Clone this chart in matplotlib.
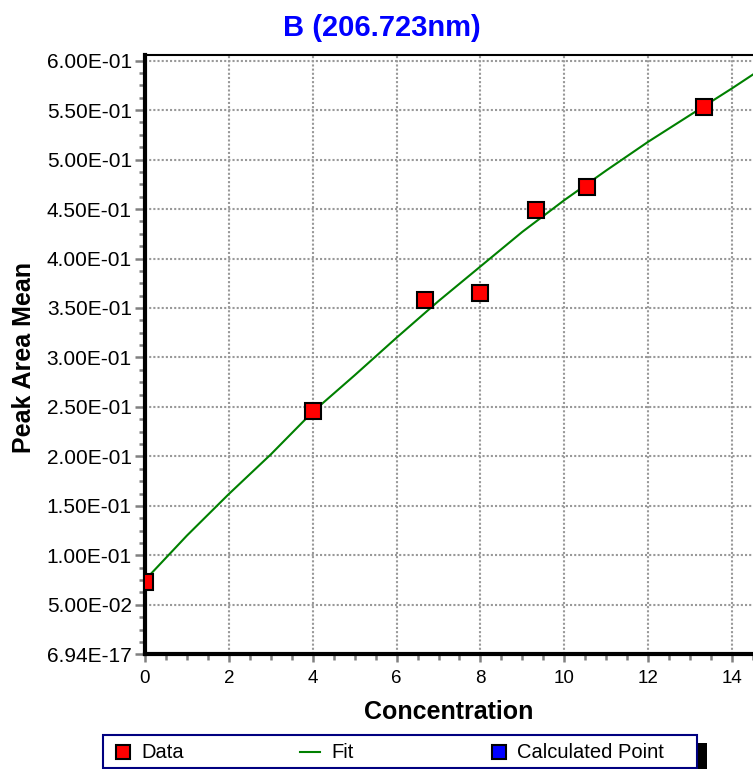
import numpy as np
import matplotlib.pyplot as plt
from matplotlib.lines import Line2D
from matplotlib.patches import Rectangle
from matplotlib.ticker import MultipleLocator

plt.rcParams['font.family'] = ['Liberation Sans', 'DejaVu Sans']

# data
conc = [0.0, 4.0, 6.67, 8.0, 9.33, 10.53, 13.33]
area = [0.0735, 0.246, 0.358, 0.365, 0.449, 0.472, 0.553]
area_err = [0.0, 0.0, 0.0, 0.007, 0.007, 0.007, 0.0]

fit_x = [0, 1, 2, 3, 4, 5, 6, 7, 8, 9, 10, 11, 12, 13, 14, 14.5]
fit_y = [0.075, 0.120, 0.162, 0.202, 0.245, 0.282, 0.320, 0.357, 0.392,
         0.427, 0.459, 0.489, 0.518, 0.545, 0.572, 0.586]

y_ticks = [0.0, 0.05, 0.1, 0.15, 0.2, 0.25, 0.3, 0.35, 0.4, 0.45, 0.5, 0.55, 0.6]
y_labels = ['6.94E-17', '5.00E-02', '1.00E-01', '1.50E-01', '2.00E-01', '2.50E-01',
            '3.00E-01', '3.50E-01', '4.00E-01', '4.50E-01', '5.00E-01', '5.50E-01',
            '6.00E-01']
x_ticks = [0, 2, 4, 6, 8, 10, 12, 14]

W, H = 753, 769
fig = plt.figure(figsize=(W / 100, H / 100), dpi=100)
ax = fig.add_axes([145 / W, 1 - 654.3 / H, 1 - 145 / W, (654.3 - 54.7) / H])

ax.plot(fit_x, fit_y, color='#008000', lw=1.5, zorder=3)
eb = ax.errorbar(conc, area, yerr=area_err, fmt='s', ms=12, mfc='#ff0000', mec='black',
                 mew=1.5, ecolor='#ff0000', elinewidth=1.5, capsize=6, capthick=2, zorder=4)
for cap in eb[1]:
    cap.set_color('black')

ax.set_xlim(0, 14.5)
ax.set_ylim(0, 0.606)
ax.set_xticks(x_ticks)
ax.set_yticks(y_ticks)
ax.set_yticklabels(y_labels)
ax.xaxis.set_minor_locator(MultipleLocator(0.5))
ax.yaxis.set_minor_locator(MultipleLocator(0.0125))

ax.grid(True, which='major', color='#999999', linestyle=(0, (1, 1)), linewidth=1.5)
ax.tick_params(axis='y', which='major', length=7, width=1.8, color='#808080',
               labelsize=15, pad=2.5)
ax.tick_params(axis='y', which='minor', length=4, width=1.8, color='#808080')
ax.tick_params(axis='x', which='major', length=6, width=1.8, color='#808080',
               labelsize=13.5, pad=5)
ax.tick_params(axis='x', which='minor', length=4, width=1.8, color='#808080')

ax.spines['right'].set_visible(False)
ax.spines['left'].set_linewidth(3)
ax.spines['bottom'].set_linewidth(3)
ax.spines['top'].set_linewidth(1.5)

ax.set_xlabel('Concentration', fontsize=18, fontweight='bold')
ax.xaxis.set_label_coords(0.5, -0.077)
ax.set_ylabel('Peak Area Mean', fontsize=18, fontweight='bold')
ax.yaxis.set_label_coords(-0.18, 0.495)

fig.text(382 / W, 1 - 28 / H, 'B (206.723nm)', ha='center', va='center',
         fontsize=21, fontweight='bold', color='#0000ff')

# legend box drawn by hand to match the spread-out layout
fig.add_artist(Rectangle((697 / W, 0), 10 / W, (769 - 743) / H, transform=fig.transFigure,
                         facecolor='black', edgecolor='none', zorder=5))
fig.add_artist(Rectangle((103 / W, 1 - 768 / H), (697 - 103) / W, (768 - 735) / H,
                         transform=fig.transFigure, facecolor='white', edgecolor='#000080',
                         lw=1.5, zorder=6))
ly = 1 - 752 / H
fig.add_artist(Line2D([123 / W], [ly], marker='s', ms=10, mfc='#ff0000', mec='black',
                      mew=1.5, transform=fig.transFigure, zorder=7))
fig.text(141 / W, ly, 'Data', ha='left', va='center', fontsize=14.5, zorder=7)
fig.add_artist(Line2D([300 / W, 320 / W], [ly, ly], color='#008000', lw=1.5,
                      transform=fig.transFigure, zorder=7))
fig.text(331 / W, ly, 'Fit', ha='left', va='center', fontsize=14.5, zorder=7)
fig.add_artist(Line2D([499 / W], [ly], marker='s', ms=10, mfc='#0000ff', mec='black',
                      mew=1.5, transform=fig.transFigure, zorder=7))
fig.text(517 / W, ly, 'Calculated Point', ha='left', va='center', fontsize=14.5, zorder=7)

fig.savefig('out.png', dpi=100)
